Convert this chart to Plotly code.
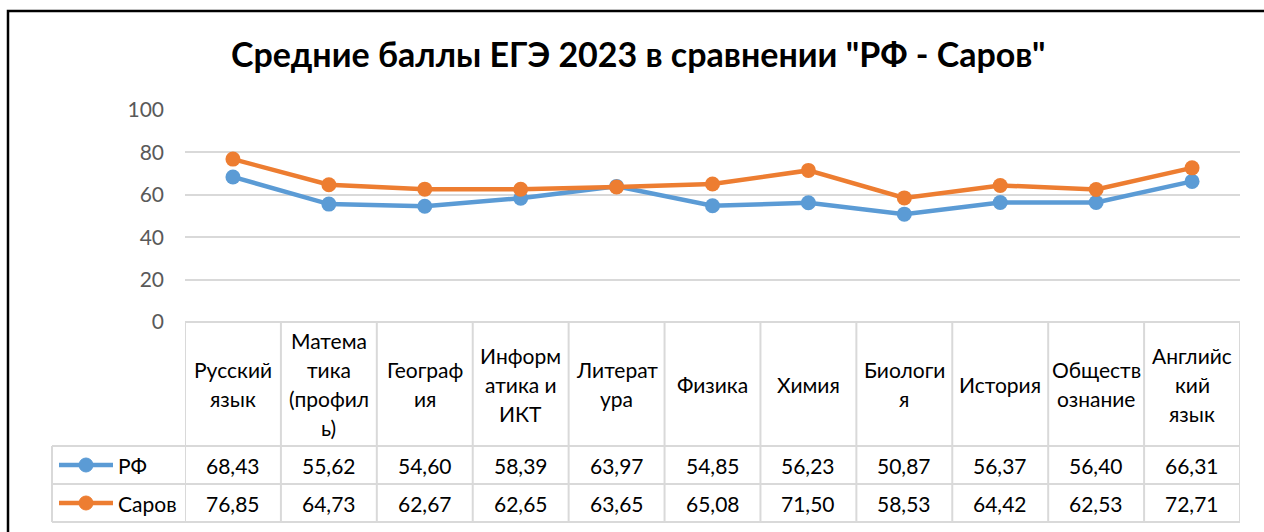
import plotly.graph_objects as go

categories = ["Русский язык", "Математика (профиль)", "География", "Информатика и ИКТ",
              "Литература", "Физика", "Химия", "Биология", "История", "Обществознание",
              "Английский язык"]
category_labels = ["Русский<br>язык", "Матема<br>тика<br>(профил<br>ь)", "Географ<br>ия",
                   "Информ<br>атика и<br>ИКТ", "Литерат<br>ура", "Физика", "Химия",
                   "Биологи<br>я", "История", "Обществ<br>ознание", "Английс<br>кий<br>язык"]
rf = [68.43, 55.62, 54.60, 58.39, 63.97, 54.85, 56.23, 50.87, 56.37, 56.40, 66.31]
sarov = [76.85, 64.73, 62.67, 62.65, 63.65, 65.08, 71.50, 58.53, 64.42, 62.53, 72.71]
series = [("РФ", rf, "#5B9BD5"), ("Саров", sarov, "#ED7D31")]
y_ticks = [0, 20, 40, 60, 80, 100]
title = 'Средние баллы ЕГЭ 2023 в сравнении "РФ - Саров"'

W, H = 1264, 532
FONT = "Lato"
FS = 21
GRID = "#d9d9d9"
LINE_GAP = 29


def px(x):
    return x / W


def py(y):
    return 1 - y / H


PLOT_L, PLOT_R, PLOT_T, PLOT_B = 185, 1240, 110, 322
ROW_TOPS = [446, 484, 522]
LEG_L = 52

fig = go.Figure()
x_idx = list(range(len(categories)))
for name, vals, color in series:
    fig.add_trace(go.Scatter(
        x=x_idx, y=vals, name=name, mode="lines+markers",
        line=dict(color=color, width=4.5),
        marker=dict(color=color, size=15),
        showlegend=False, hoverinfo="y"))

shapes = []
annotations = []
n = len(categories)


def text(x, y, s, xref="paper", xanchor="center", size=FS, color="#000000", family=FONT):
    annotations.append(dict(x=x, y=y, xref=xref, yref="paper", text=s, showarrow=False,
                            xanchor=xanchor, yanchor="middle",
                            font=dict(family=family, size=size, color=color)))


# table vertical lines
for i in range(n + 1):
    shapes.append(dict(type="line", xref="x", yref="paper", x0=i - 0.5, x1=i - 0.5,
                       y0=py(PLOT_B), y1=py(ROW_TOPS[-1]), line=dict(color=GRID, width=2)))
shapes.append(dict(type="line", xref="paper", yref="paper", x0=px(LEG_L), x1=px(LEG_L),
                   y0=py(ROW_TOPS[0]), y1=py(ROW_TOPS[-1]), line=dict(color=GRID, width=2)))
# table horizontal lines
shapes.append(dict(type="line", xref="paper", yref="paper", x0=px(PLOT_L), x1=px(PLOT_R),
                   y0=py(PLOT_B), y1=py(PLOT_B), line=dict(color=GRID, width=2)))
for yy in ROW_TOPS:
    shapes.append(dict(type="line", xref="paper", yref="paper", x0=px(LEG_L), x1=px(PLOT_R),
                       y0=py(yy), y1=py(yy), line=dict(color=GRID, width=2)))

# header labels (one annotation per wrapped line)
hc = (PLOT_B + ROW_TOPS[0]) / 2
for i, lab in enumerate(category_labels):
    lines = lab.split("<br>")
    k = len(lines)
    for j, ln in enumerate(lines):
        yy = hc + (j - (k - 1) / 2) * LINE_GAP
        text(i, py(yy), ln, xref="x")

# data rows
for r, (name, vals, color) in enumerate(series):
    yk = (ROW_TOPS[r] + ROW_TOPS[r + 1]) / 2
    for i, v in enumerate(vals):
        text(i, py(yk), f"{v:.2f}".replace(".", ","), xref="x")
    # legend key
    shapes.append(dict(type="line", xref="paper", yref="paper", x0=px(59), x1=px(113),
                       y0=py(yk), y1=py(yk), line=dict(color=color, width=4.5)))
    shapes.append(dict(type="circle", xref="paper", yref="paper", x0=px(79), x1=px(93),
                       y0=py(yk + 7), y1=py(yk - 7), fillcolor=color,
                       line=dict(color=color, width=1)))
    text(px(116), py(yk), name, xanchor="left")

# outer border
shapes.append(dict(type="rect", xref="paper", yref="paper", x0=px(8), x1=px(W + 20),
                   y0=py(11), y1=py(H + 20), line=dict(color="#000000", width=2.5)))

text(px(638), py(53), f"<b>{title}</b>", size=34)

fig.update_layout(
    width=W, height=H,
    margin=dict(l=0, r=0, t=0, b=0, pad=0),
    paper_bgcolor="white", plot_bgcolor="white",
    shapes=shapes, annotations=annotations,
    xaxis=dict(domain=[px(PLOT_L), px(PLOT_R)], range=[-0.5, n - 0.5],
               showticklabels=False, showgrid=False, zeroline=False, showline=False,
               automargin=False, fixedrange=True),
    yaxis=dict(domain=[py(PLOT_B), py(PLOT_T)], range=[0, 100], tickvals=y_ticks,
               showgrid=True, gridcolor=GRID, gridwidth=2, zeroline=False, showline=False,
               ticklabelstandoff=20, automargin=False,
               tickfont=dict(family=FONT, size=FS, color="#595959"), fixedrange=True),
)

fig.write_html("out.html")
